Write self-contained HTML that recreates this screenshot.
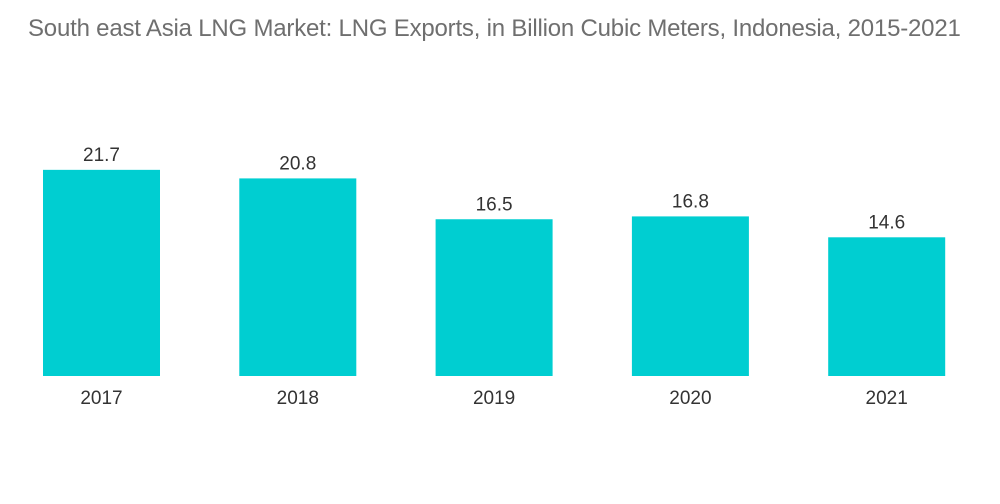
<!DOCTYPE html>
<html><head><meta charset="utf-8"><style>
body{margin:0;background:#fff;width:1000px;height:504px;overflow:hidden;font-family:"Liberation Sans",sans-serif}
#title{position:absolute;left:28px;top:15px;font-size:24px;color:#6f6f6f;white-space:nowrap;letter-spacing:-0.2px}
</style></head><body>
<div id="title">South east Asia LNG Market: LNG Exports, in Billion Cubic Meters, Indonesia, 2015-2021</div>
<svg id="chart" width="1000" height="504" style="position:absolute;left:0;top:0"></svg>
<script>
const categories=["2017","2018","2019","2020","2021"];
const values=[21.7,20.8,16.5,16.8,14.6];
const labels=["21.7","20.8","16.5","16.8","14.6"];
const svg=document.getElementById('chart');
const NS='http://www.w3.org/2000/svg';
const baseY=376, pxPerUnit=9.5, startX=43, step=196.3, barW=117;
function x(i){return startX+i*step;}
function y(v){return baseY-v*pxPerUnit;}
categories.forEach((c,i)=>{
  const r=document.createElementNS(NS,'rect');
  r.setAttribute('x',x(i));r.setAttribute('y',y(values[i]));
  r.setAttribute('width',barW);r.setAttribute('height',baseY-y(values[i]));
  r.setAttribute('fill','#00ced1');
  
  
  svg.appendChild(r);
  const t=document.createElementNS(NS,'text');
  t.setAttribute('x',x(i)+barW/2);t.setAttribute('y',y(values[i])-9);
  t.setAttribute('text-anchor','middle');t.setAttribute('font-size','19');t.setAttribute('fill','#333');
  t.setAttribute('font-family','Liberation Sans, sans-serif');
  t.textContent=labels[i];
  
  
  svg.appendChild(t);
  const a=document.createElementNS(NS,'text');
  a.setAttribute('x',x(i)+barW/2);a.setAttribute('y',404);
  a.setAttribute('text-anchor','middle');a.setAttribute('font-size','19');a.setAttribute('fill','#333');
  a.setAttribute('font-family','Liberation Sans, sans-serif');
  a.textContent=c;
  
  
  svg.appendChild(a);
});
</script>
</body></html>
